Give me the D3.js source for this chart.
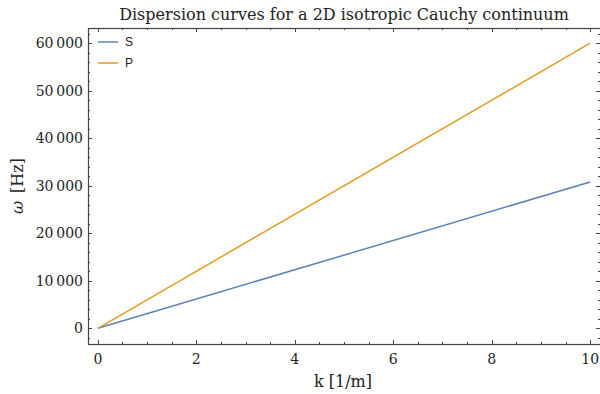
<!DOCTYPE html>
<html>
<head>
<meta charset="utf-8">
<script src="https://cdn.jsdelivr.net/npm/d3@7"></script>
<style>
    body { margin: 0; background: #fff; }
    text { font-family: "DejaVu Serif", serif; fill: #222; }
    .legend text { font-family: "Liberation Sans", Arial, sans-serif; }
</style>
</head>
<body>
<div id="chart"></div>
<script>
// data
let kValues = [0, 10];
let sValues = [0, 30800];
let pValues = [0, 60000];
let seriesNames = ['S', 'P'];
let seriesColors = ['#5e81b5', '#e19c24'];
let xTicks = [0, 2, 4, 6, 8, 10];
let yTicks = [0, 10000, 20000, 30000, 40000, 50000, 60000];

let width = 600, height = 394;
let margin = { top: 28, right: 0, bottom: 50, left: 88 };

let svg = d3.select("#chart").append("svg")
    .attr("width", width)
    .attr("height", height);

let x = d3.scaleLinear().domain([-0.2, 10.2]).range([margin.left, width - margin.right]);
let y = d3.scaleLinear().domain([-3300, 63200]).range([height - margin.bottom, margin.top]);

let fmt = d => d3.format(",")(d).replace(/,/g, "\u2009");

let x0 = x.range()[0], x1 = x.range()[1];
let y0 = y.range()[0], y1 = y.range()[1];
let frameColor = "#444";

// minor ticks
let xMinor = d3.range(0, 10.01, 0.5).filter(d => !xTicks.includes(d));
let yMinor = d3.range(-2000, 63000, 2000).filter(d => !yTicks.includes(d));

let ticks = svg.append("g").attr("stroke", frameColor).attr("stroke-width", 1);

xTicks.forEach(d => {
    let px = Math.round(x(d)) + 0.5;
    ticks.append("line").attr("x1", px).attr("x2", px).attr("y1", y0).attr("y2", y0 - 4);
    ticks.append("line").attr("x1", px).attr("x2", px).attr("y1", y1).attr("y2", y1 + 4);
});
xMinor.forEach(d => {
    let px = Math.round(x(d)) + 0.5;
    ticks.append("line").attr("x1", px).attr("x2", px).attr("y1", y0).attr("y2", y0 - 2);
    ticks.append("line").attr("x1", px).attr("x2", px).attr("y1", y1).attr("y2", y1 + 2);
});
yTicks.forEach(d => {
    let py = Math.round(y(d)) + 0.5;
    ticks.append("line").attr("x1", x0).attr("x2", x0 + 4).attr("y1", py).attr("y2", py);
    ticks.append("line").attr("x1", x1).attr("x2", x1 - 4).attr("y1", py).attr("y2", py);
});
yMinor.forEach(d => {
    let py = Math.round(y(d)) + 0.5;
    ticks.append("line").attr("x1", x0).attr("x2", x0 + 2).attr("y1", py).attr("y2", py);
    ticks.append("line").attr("x1", x1).attr("x2", x1 - 2).attr("y1", py).attr("y2", py);
});

// frame (right edge sits just past the picture)
svg.append("rect")
    .attr("x", x0 + 0.5).attr("y", y1 + 0.5)
    .attr("width", x1 - x0 + 1).attr("height", y0 - y1)
    .attr("fill", "none")
    .attr("stroke", frameColor)
    .attr("stroke-width", 1.2);

// tick labels
svg.append("g").selectAll("text")
    .data(xTicks).join("text")
    .attr("x", d => x(d))
    .attr("y", y0 + 20)
    .attr("text-anchor", "middle")
    .attr("font-size", 14)
    .text(d => d);

svg.append("g").selectAll("text")
    .data(yTicks).join("text")
    .attr("x", x0 - 5)
    .attr("y", d => y(d) + 5)
    .attr("text-anchor", "end")
    .attr("font-size", 14)
    .text(fmt);

// series
let line = d3.line().x(d => x(d[0])).y(d => y(d[1]));
let series = [sValues, pValues];
series.forEach((vals, i) => {
    svg.append("path")
        .datum(kValues.map((k, j) => [k, vals[j]]))
        .attr("d", line)
        .attr("fill", "none")
        .attr("stroke", seriesColors[i])
        .attr("stroke-width", 1.5);
});

// legend
let legend = svg.append("g").attr("class", "legend");
seriesNames.forEach((name, i) => {
    let ly = 42 + i * 21;
    legend.append("line")
        .attr("x1", 98).attr("x2", 118)
        .attr("y1", ly).attr("y2", ly)
        .attr("stroke", seriesColors[i])
        .attr("stroke-width", 1.5);
    legend.append("text")
        .attr("x", 125).attr("y", ly + 4)
        .attr("font-size", 12)
        .text(name);
});

// title and axis labels
svg.append("text")
    .attr("x", 344)
    .attr("y", 20)
    .attr("text-anchor", "middle")
    .attr("font-size", 16)
    .text("Dispersion curves for a 2D isotropic Cauchy continuum");

svg.append("text")
    .attr("x", 343)
    .attr("y", 387)
    .attr("text-anchor", "middle")
    .attr("font-size", 16)
    .text("k [1/m]");

svg.append("text")
    .attr("transform", `translate(23, ${(y0 + y1) / 2}) rotate(-90)`)
    .attr("text-anchor", "middle")
    .attr("font-size", 16)
    .html('<tspan font-style="italic">ω</tspan>\u2002[Hz]');
</script>
</body>
</html>
